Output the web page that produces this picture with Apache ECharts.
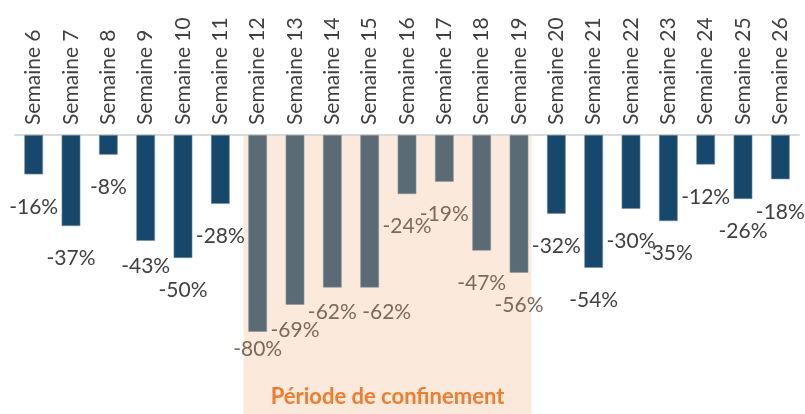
<!DOCTYPE html>
<html>
<head>
<meta charset="utf-8">
<style>html,body{margin:0;padding:0;background:#fff}#c{width:805px;height:414px}</style>
<script src="https://cdn.jsdelivr.net/npm/echarts@6/dist/echarts.min.js"></script>
</head>
<body>
<div id="c"></div>
<script>
const categories = ['Semaine 6','Semaine 7','Semaine 8','Semaine 9','Semaine 10','Semaine 11','Semaine 12','Semaine 13','Semaine 14','Semaine 15','Semaine 16','Semaine 17','Semaine 18','Semaine 19','Semaine 20','Semaine 21','Semaine 22','Semaine 23','Semaine 24','Semaine 25','Semaine 26'];
const values = [-16,-37,-8,-43,-50,-28,-80,-69,-62,-62,-24,-19,-47,-56,-32,-54,-30,-35,-12,-26,-18];
const confinementStart = 'Semaine 12';
const confinementEnd = 'Semaine 19';
const regionLabel = 'Période de confinement';

const FONT = 'Lato';
const iStart = categories.indexOf(confinementStart);
const iEnd = categories.indexOf(confinementEnd);
// per-label tweaks (label placement as in the original)
const labelTweak = {3:[0,15],6:[0,7],7:[0,15],8:[0,14],9:[17,14]};

const data = values.map((v, i) => {
  const conf = i >= iStart && i <= iEnd;
  const t = labelTweak[i] || [0, 22];
  return {
    value: v,
    itemStyle: { color: conf ? '#5a6b75' : '#17476a', borderColor: conf ? '#8a98a0' : '#6f8ea6', borderWidth: 0.6 },
    label: { distance: t[1], offset: [t[0], 0], color: conf ? '#7b6a5c' : '#404040' }
  };
});

const chart = echarts.init(document.getElementById('c'));
const option = {
  animation: false,
  grid: { left: 15, right: 6, top: 135, bottom: 33 },
  xAxis: {
    type: 'category', position: 'top', data: categories,
    axisLine: { lineStyle: { color: '#d9d9d9', width: 2 } },
    axisTick: { show: false },
    axisLabel: { rotate: 90, margin: 10, color: '#404040', fontFamily: FONT, fontSize: 21 }
  },
  yAxis: { type: 'value', min: -100, max: 0, show: false, splitLine: { show: false } },
  series: [{
    type: 'bar', data: data, barWidth: '50%', z: 3,
    label: { show: true, position: 'bottom', formatter: p => p.value + '%', fontFamily: FONT, fontSize: 21 }
  }]
};
chart.setOption(option);

const c0 = chart.convertToPixel({ xAxisIndex: 0 }, confinementStart);
const c1 = chart.convertToPixel({ xAxisIndex: 0 }, confinementEnd);
const zeroY = chart.convertToPixel({ yAxisIndex: 0 }, 0);
const band = (c1 - c0) / (iEnd - iStart);
const x0 = c0 - band * 0.375, x1 = c1 + band * 0.33;
chart.setOption({
  graphic: [
    { type: 'rect', z: -10, silent: true, shape: { x: x0, y: zeroY - 1, width: x1 - x0, height: 414 - zeroY + 1 }, style: { fill: '#fbe9db' } },
    { type: 'text', z: 10, silent: true, x: (x0 + x1) / 2, y: 397, style: { text: regionLabel, fill: '#ed7d31', font: 'bold 22px "Lato"', textAlign: 'center', textVerticalAlign: 'middle' } }
  ]
});
</script>
</body>
</html>
